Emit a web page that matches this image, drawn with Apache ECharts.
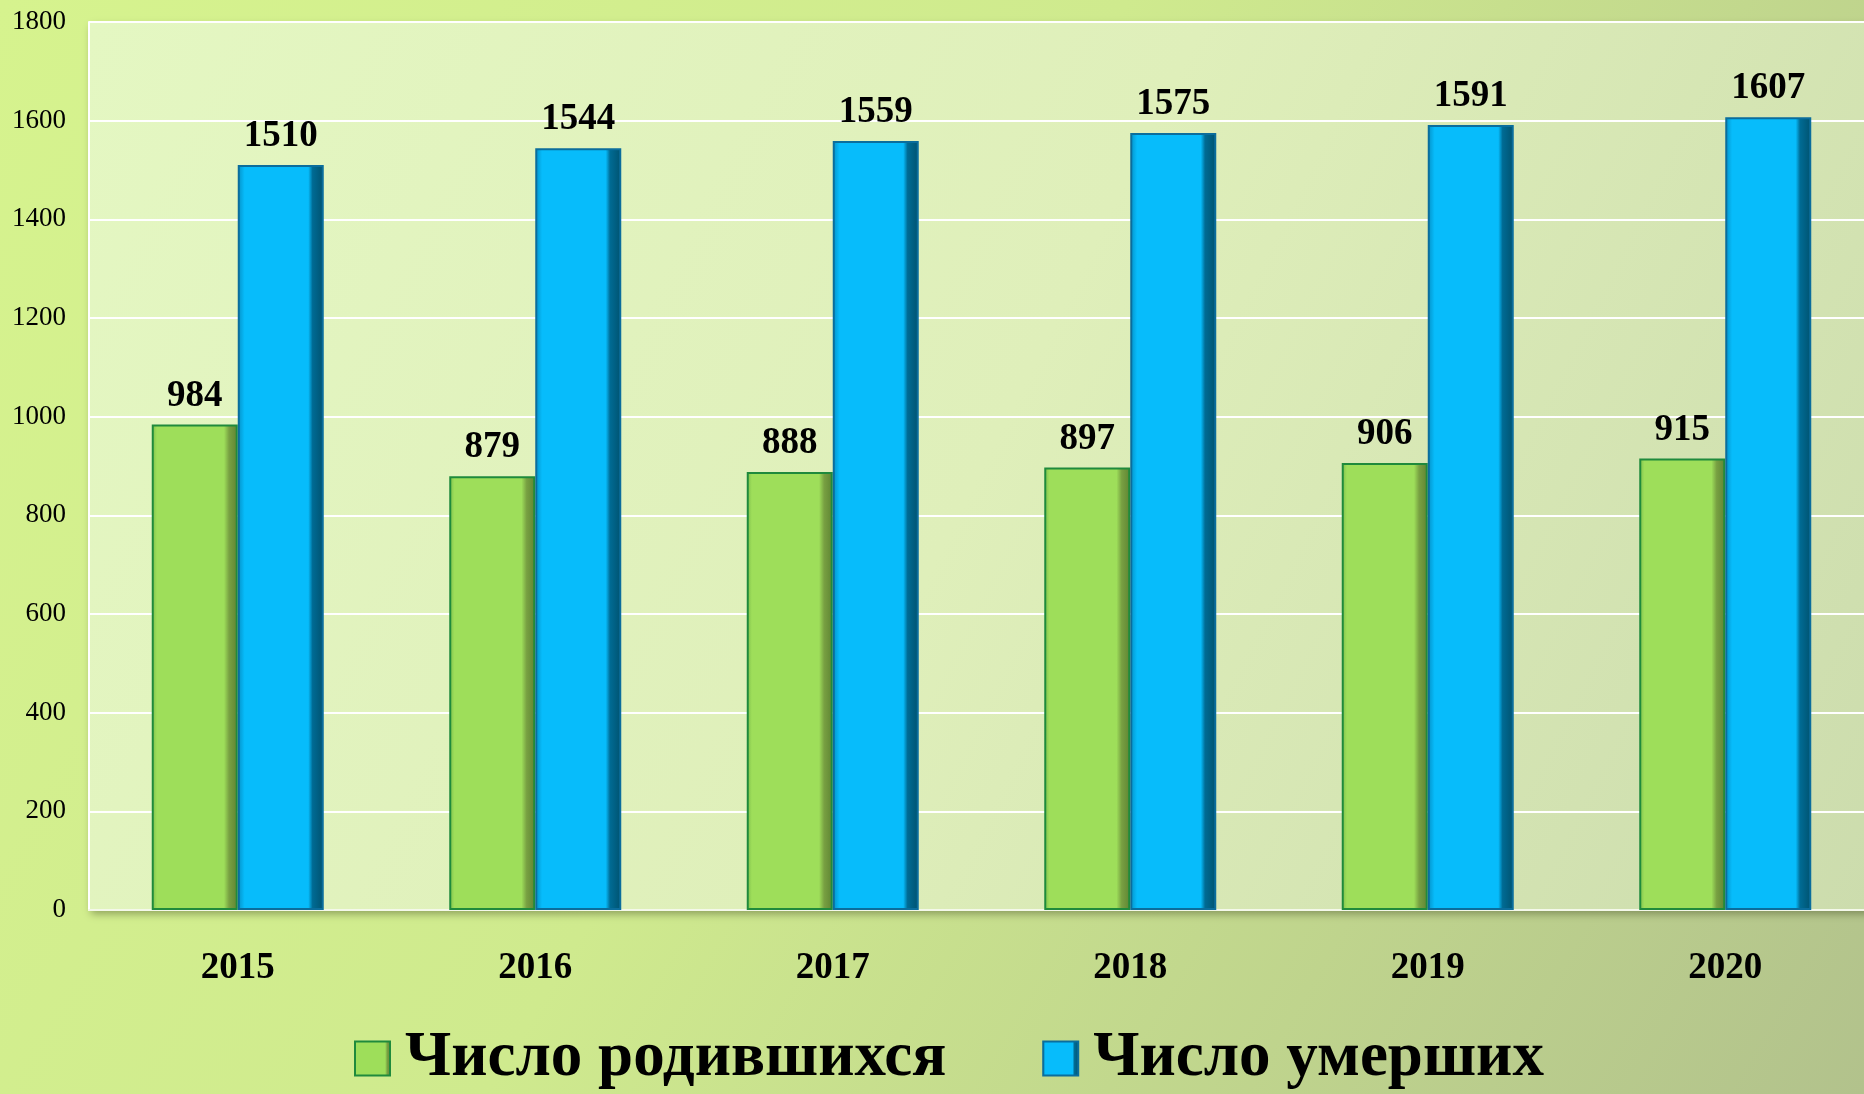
<!DOCTYPE html>
<html>
<head>
<meta charset="utf-8">
<script src="https://cdn.jsdelivr.net/npm/echarts@6/dist/echarts.min.js"></script>
<style>
  html, body { margin: 0; padding: 0; }
  #chart { width: 1864px; height: 1094px; }
</style>
</head>
<body>
<div id="chart"></div>
<script>
const years = ['2015', '2016', '2017', '2018', '2019', '2020']
const births = [984, 879, 888, 897, 906, 915]
const deaths = [1510, 1544, 1559, 1575, 1591, 1607]
const seriesNames = ['Число родившихся', 'Число умерших']

const serif = "'Liberation Serif', 'Times New Roman', serif"

const grad = (stops, x2, y2) => ({
  type: 'linear', x: 0, y: 0, x2: x2, y2: y2,
  colorStops: stops.map(([offset, color]) => ({ offset, color }))
})

// horizontal shading to fake the bevel of the original bars
const greenFill = grad([
  [0, '#7cbc4a'], [0.06, '#9ede5a'], [0.84, '#9ede5a'], [0.9, '#78a042'], [1, '#5e8432']
], 1, 0)
const blueFill = grad([
  [0, '#0490c6'], [0.08, '#07bcfb'], [0.82, '#07bcfb'], [0.87, '#006b94'], [1, '#00526f']
], 1, 0)

const chart = echarts.init(document.getElementById('chart'))

const labelStyle = {
  show: true,
  position: 'top',
  distance: 10,
  fontFamily: serif,
  fontWeight: 'bold',
  fontSize: 37,
  color: '#000'
}

chart.setOption({
  backgroundColor: grad([[0, '#d6f38e'], [0.45, '#cfea8e'], [1, '#b2c28c']], 1, 1),
  animation: false,
  grid: {
    left: 89,
    top: 22,
    width: 1785,
    height: 888,
    outerBoundsMode: 'none',
    show: true,
    backgroundColor: grad([[0, '#e4f7c2'], [0.5, '#dfefba'], [1, '#ccdcad']], 1, 1),
    borderWidth: 0,
    shadowColor: 'rgba(60,70,30,0.45)',
    shadowBlur: 8,
    shadowOffsetX: 2,
    shadowOffsetY: 4
  },
  legend: {
    data: seriesNames,
    left: 354,
    top: 1027,
    padding: 0,
    icon: 'rect',
    itemWidth: 35,
    itemHeight: 34,
    itemGap: 96,
    textStyle: {
      fontFamily: serif,
      fontWeight: 'bold',
      fontSize: 63,
      color: '#000',
      padding: [16, 0, 0, 10]
    }
  },
  xAxis: {
    type: 'category',
    data: years,
    axisLine: { show: true, lineStyle: { color: '#f4f8ea', width: 2 } },
    axisTick: { show: false },
    axisLabel: {
      margin: 40,
      fontFamily: serif,
      fontWeight: 'bold',
      fontSize: 37,
      color: '#000'
    }
  },
  yAxis: {
    type: 'value',
    min: 0,
    max: 1800,
    interval: 200,
    axisLine: { show: true, lineStyle: { color: '#ffffff', width: 2 } },
    axisTick: { show: false },
    splitLine: { lineStyle: { color: '#ffffff', width: 2 } },
    axisLabel: {
      margin: 23,
      fontFamily: serif,
      fontSize: 27,
      color: '#000',
      formatter: (v) => String(v)
    }
  },
  series: [
    {
      name: seriesNames[0],
      type: 'bar',
      data: births,
      barWidth: 86,
      barGap: '0%',
      itemStyle: { color: greenFill, borderColor: '#1f8a3c', borderWidth: 2 },
      label: labelStyle
    },
    {
      name: seriesNames[1],
      type: 'bar',
      data: deaths,
      barWidth: 86,
      barGap: '0%',
      itemStyle: { color: blueFill, borderColor: '#0b6d9c', borderWidth: 2 },
      label: labelStyle
    }
  ]
})
</script>
</body>
</html>
